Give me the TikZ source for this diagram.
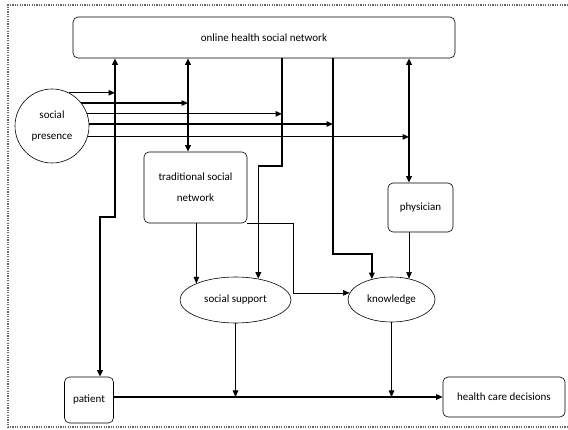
\documentclass[tikz,border=0pt]{standalone}
\usepackage{fontspec}
\setmainfont{Carlito}
\usetikzlibrary{arrows.meta, shapes.geometric}

\begin{document}
\begin{tikzpicture}[x=1pt,y=-1pt,
    box/.style={draw, line width=0.6pt, rounded corners=5pt, align=center, inner sep=2pt, font=\fontsize{11}{21}\selectfont},
    oval/.style={draw, line width=0.6pt, ellipse, inner sep=0pt, font=\fontsize{11}{13}\selectfont},
    bold/.style={line width=1.6pt, >={Triangle[length=6.5pt,width=5.5pt]}},
    mid/.style={line width=1.1pt, >={Triangle[length=6.5pt,width=5.5pt]}},
    plain/.style={line width=0.6pt, >={Triangle[length=6.5pt,width=5.5pt]}}]
\useasboundingbox (0,0) rectangle (568,430);
\draw[black!60, line width=1.2pt, dash pattern=on 1.2pt off 1.2pt] (568,5) -- (8,5) -- (8,427) -- (568,427);

% nodes
\node[box, minimum width=382pt, minimum height=41pt] (ohsn) at (264,37.5) {online health social network};
\node[draw, line width=0.6pt, circle, minimum size=74pt, inner sep=0pt, align=center, font=\fontsize{11}{21}\selectfont] (sp) at (52,126) {social\\presence};
\node[box, minimum width=103pt, minimum height=71pt] (tsn) at (195.5,187.5) {traditional social\\network};
\node[box, minimum width=65pt, minimum height=49pt] (phys) at (420.5,207.5) {physician};
\node[oval, minimum width=111pt, minimum height=46pt] (ss) at (235.5,300) {social support};
\node[oval, minimum width=87pt, minimum height=45pt] (kn) at (391.5,299.5) {knowledge};
\node[box, minimum width=49pt, minimum height=46pt] (pat) at (89,400) {patient};
\node[box, minimum width=122pt, minimum height=40pt] (hcd) at (504,397) {health care decisions};

% attachment points under the online network
\coordinate (t1) at (115,0 |- ohsn.south);
\coordinate (t2) at (188,0 |- ohsn.south);
\coordinate (t3) at (282,0 |- ohsn.south);
\coordinate (t4) at (333,0 |- ohsn.south);
\coordinate (t5) at (409,0 |- ohsn.south);
\coordinate (jb) at (115,217);

% online network links
\draw[bold,<->] ([xshift=11pt]pat.north) |- (jb) -- (t1);
\draw[bold,<->] (t2) -- (tsn.north -| t2);
\draw[bold,->] (t3) -- ++(0,108) -| (ss.43);
\draw[bold,->] (t4) -- ++(0,196) -| (kn.134);
\draw[bold,<->] (t5) -- (phys.north -| t5);

% social presence
\foreach \a/\t in {63/t1, 38/t2, 19/t3, 3/t4, 343/t5}
    \draw[mid,->] (sp.\a) -- (sp.\a -| \t);

% traditional network and physician
\draw[plain,->] (tsn.south -| ss.157) -- (ss.157);
\draw[plain,->] (tsn.south east) -- ++(46,0) |- (kn.171);
\draw[plain,->] (phys.south -| kn.50) -- (kn.50);

% decisions
\draw[mid,->] (pat.east |- hcd.west) -- (hcd.west);
\draw[plain,->] (ss.south) -- (ss.south |- hcd.west);
\draw[plain,->] (kn.south) -- (kn.south |- hcd.west);
\end{tikzpicture}
\end{document}
